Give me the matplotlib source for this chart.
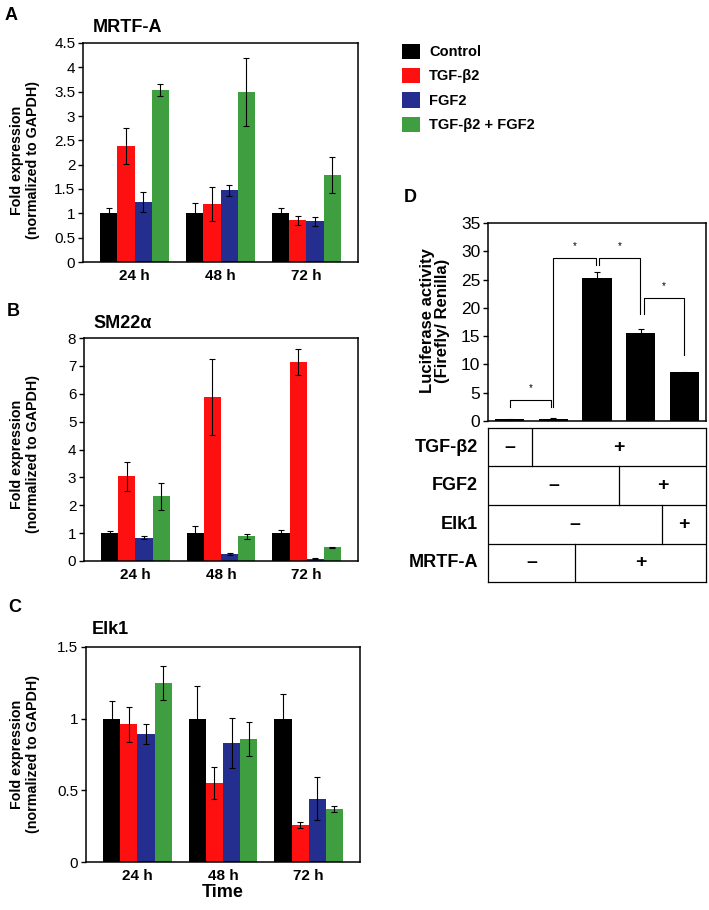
import numpy as np
import matplotlib
matplotlib.use("Agg")
import matplotlib.pyplot as plt
from matplotlib.patches import Patch

plt.rcParams["font.family"] = ["Liberation Sans", "DejaVu Sans"]

W, H = 709, 910

# ---- data -------------------------------------------------------------
times = ["24 h", "48 h", "72 h"]
groups = ["Control", "TGF-β2", "FGF2", "TGF-β2 + FGF2"]
colors = ["#000000", "#ff1010", "#232e8e", "#3f9e40"]

# rows: Control, TGF-b2, FGF2, TGF-b2 + FGF2 ; cols: 24 h, 48 h, 72 h
mrtfa_mean = [[1.00, 1.00, 1.00], [2.39, 1.19, 0.86], [1.23, 1.47, 0.84], [3.54, 3.49, 1.79]]
mrtfa_err = [[0.10, 0.22, 0.11], [0.37, 0.35, 0.09], [0.20, 0.12, 0.09], [0.12, 0.70, 0.37]]

sm22_mean = [[1.00, 1.00, 1.00], [3.04, 5.87, 7.13], [0.83, 0.24, 0.08], [2.32, 0.89, 0.49]]
sm22_err = [[0.07, 0.25, 0.12], [0.52, 1.36, 0.47], [0.05, 0.04, 0.02], [0.48, 0.09, 0.03]]

elk1_mean = [[1.00, 1.00, 1.00], [0.96, 0.55, 0.26], [0.89, 0.83, 0.44], [1.25, 0.86, 0.37]]
elk1_err = [[0.12, 0.23, 0.175], [0.12, 0.11, 0.02], [0.07, 0.175, 0.15], [0.12, 0.12, 0.02]]

luc_mean = [0.3, 0.4, 25.2, 15.6, 8.6]
luc_err = [0.05, 0.05, 1.2, 0.6, 0.1]

table_rows = ["TGF-β2", "FGF2", "Elk1", "MRTF-A"]
tgf_row = [0, 1, 1, 1, 1]
fgf_row = [0, 0, 0, 1, 1]
elk_row = [0, 0, 0, 0, 1]
mrtf_row = [0, 0, 1, 1, 1]

# significance brackets: x left, x right, top, left leg bottom, right leg bottom
brackets = [
    (0.0, 0.95, 3.7, 2.5, 2.5),
    (0.99, 1.97, 28.9, 2.5, 27.6),
    (2.05, 2.98, 28.9, 27.6, 19.0),
    (3.07, 4.0, 21.7, 19.0, 11.7),
]


def px_axes(fig, left, top, right, bottom):
    return fig.add_axes([left / W, 1 - bottom / H, (right - left) / W, (bottom - top) / H])


def style_box(ax, lw=1.1):
    for s in ax.spines.values():
        s.set_linewidth(lw)
        s.set_color("black")


def grouped_panel(ax, means, errs, ymax, step, show_time=False):
    x = np.arange(len(times))
    width = 0.2
    for i, (m, e) in enumerate(zip(means, errs)):
        ax.bar(x + (i - 1.5) * width, m, width, color=colors[i], zorder=2)
        ax.errorbar(x + (i - 1.5) * width, m, yerr=e, fmt="none", ecolor="black",
                    elinewidth=0.8, capsize=2.3, capthick=0.8, zorder=3)
    ax.set_xlim(-0.6, 2.6)
    ax.set_ylim(0, ymax)
    ticks = np.arange(0, ymax + step / 2, step)
    ax.set_yticks(ticks)
    ax.set_yticklabels([f"{t:g}" for t in ticks], fontsize=11)
    ax.set_xticks(x)
    ax.set_xticklabels(times, fontsize=11, fontweight="bold")
    ax.tick_params(axis="x", length=0, pad=5)
    ax.tick_params(axis="y", length=3.5, width=1, pad=2)
    style_box(ax)
    if show_time:
        ax.set_xlabel("Time", fontsize=13, fontweight="bold", labelpad=1)


fig = plt.figure(figsize=(W / 100, H / 100), dpi=100)

ylab = "Fold expression\n(normalized to GAPDH)"

axA = px_axes(fig, 83, 43, 358, 262)
grouped_panel(axA, mrtfa_mean, mrtfa_err, 4.5, 0.5)
axB = px_axes(fig, 84, 338, 358, 561)
grouped_panel(axB, sm22_mean, sm22_err, 8, 1)
axC = px_axes(fig, 86, 647, 360, 862)
grouped_panel(axC, elk1_mean, elk1_err, 1.5, 0.5, show_time=True)

for yc in (160, 454, 754):
    fig.text(25 / W, 1 - yc / H, ylab, rotation=90, ha="center", va="center",
             multialignment="center", fontsize=10.3, fontweight="bold", linespacing=1.15)

for txt, x, y in [("MRTF-A", 93, 28), ("SM22α", 93, 323), ("Elk1", 92, 629)]:
    fig.text(x / W, 1 - y / H, txt, ha="left", va="center", fontsize=13, fontweight="bold")

for txt, x, y in [("A", 5, 15), ("B", 7, 312), ("C", 8, 607), ("D", 404, 198)]:
    fig.text(x / W, 1 - y / H, txt, ha="left", va="center", fontsize=13, fontweight="bold")

# legend
handles = [Patch(facecolor=c, edgecolor="none", label=g) for c, g in zip(colors, groups)]
fig.legend(handles=handles, loc="upper left", bbox_to_anchor=(402 / W, 1 - 43.5 / H),
           frameon=False, prop={"weight": "bold", "size": 10.5}, handlelength=1.25,
           handleheight=1.25, labelspacing=0.6, handletextpad=0.6, borderpad=0,
           borderaxespad=0)

# panel D
axD = px_axes(fig, 488, 223, 706, 421)
xd = np.arange(len(luc_mean))
axD.bar(xd, luc_mean, 0.67, color="black", zorder=2)
axD.errorbar(xd, luc_mean, yerr=luc_err, fmt="none", ecolor="black",
             elinewidth=0.8, capsize=2.5, capthick=0.8, zorder=3)
for x1, x2, top, b1, b2 in brackets:
    axD.plot([x1, x1, x2, x2], [b1, top, top, b2], color="black", lw=0.8, zorder=4)
    axD.text((x1 + x2) / 2, top + 1.2, "*", ha="center", va="bottom", fontsize=7)
axD.set_xlim(-0.5, 4.5)
axD.set_ylim(0, 35)
axD.set_yticks(np.arange(0, 36, 5))
axD.set_yticklabels([str(v) for v in range(0, 36, 5)], fontsize=12.5)
axD.set_xticks([])
axD.tick_params(axis="y", length=3.5, width=1, pad=2)
style_box(axD)
fig.text(435 / W, 1 - 321 / H, "Luciferase activity\n(Firefly/ Renilla)", rotation=90,
         ha="center", va="center", multialignment="center", fontsize=12,
         fontweight="bold", linespacing=1.05)

# treatment table
axT = px_axes(fig, 488, 428, 706, 582)
axT.set_xlim(-0.5, 4.5)
axT.set_ylim(0, 4)
axT.set_xticks([])
axT.set_yticks([])
style_box(axT, lw=0.9)
for r, (name, row) in enumerate(zip(table_rows, [tgf_row, fgf_row, elk_row, mrtf_row])):
    yc = 3.5 - r
    if r > 0:
        axT.axhline(4 - r, color="black", lw=0.9)
    start = 0
    for j in range(1, len(row) + 1):
        if j == len(row) or row[j] != row[start]:
            if j < len(row):
                axT.plot([j - 0.5, j - 0.5], [yc - 0.5, yc + 0.5], color="black", lw=0.9)
            sign = "+" if row[start] else "–"
            axT.text((start + j - 1) / 2, yc, sign, ha="center", va="center",
                     fontsize=14, fontweight="bold")
            start = j
    axT.text(-0.73, yc, name, ha="right", va="center", fontsize=13,
             fontweight="bold", clip_on=False)

fig.savefig("out.png", dpi=100)
